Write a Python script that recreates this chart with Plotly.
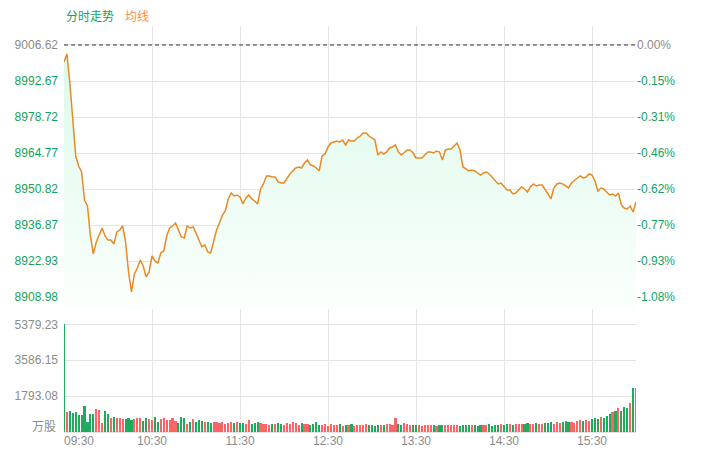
import pandas as pd
import plotly.graph_objects as go

# ---------------- data ----------------
PREV_CLOSE = 9006.62
PRICE_TICKS = [9006.62, 8992.67, 8978.72, 8964.77, 8950.82, 8936.87, 8922.93, 8908.98]
VOL_TICKS = [0, 1793.08, 3586.15, 5379.23]
VOL_TICK_TEXT = ["万股", "1793.08", "3586.15", "5379.23"]
TIME_TICKS = ["09:30", "10:30", "11:30", "12:30", "13:30", "14:30", "15:30", "16:00"]

# price every 2 minutes, 09:30 .. 16:00
PRICE = [
    9000.04, 9003.14, 8991.91, 8976.43, 8963.66, 8959.79, 8957.47, 8946.63, 8944.31, 8932.70,
    8925.74, 8930.38, 8933.48, 8935.80, 8932.70, 8931.15, 8931.15, 8929.61, 8934.25, 8935.02,
    8936.57, 8930.38, 8918.77, 8911.03, 8918.00, 8920.32, 8923.41, 8921.09, 8916.84, 8918.77,
    8924.96, 8923.03, 8922.25, 8926.12, 8926.90, 8932.70, 8935.80, 8936.57, 8937.73, 8935.02,
    8932.32, 8931.93, 8936.57, 8935.80, 8936.19, 8933.86, 8931.15, 8928.45, 8929.22, 8926.51,
    8926.12, 8930.38, 8935.02, 8937.73, 8940.83, 8942.38, 8947.02, 8949.34, 8948.18, 8948.57,
    8947.80, 8945.09, 8947.41, 8948.57, 8947.02, 8946.25, 8945.09, 8950.89, 8952.83, 8955.92,
    8955.92, 8955.54, 8955.54, 8953.60, 8953.21, 8953.21, 8955.15, 8956.70, 8957.86, 8959.02,
    8959.41, 8959.02, 8960.95, 8962.11, 8960.18, 8959.79, 8959.02, 8957.86, 8963.66, 8964.44,
    8967.15, 8968.69, 8969.08, 8969.47, 8969.08, 8969.85, 8967.92, 8969.85, 8969.47, 8969.47,
    8970.63, 8971.40, 8972.56, 8972.56, 8971.40, 8970.63, 8969.85, 8964.05, 8965.21, 8964.44,
    8965.21, 8966.76, 8967.15, 8967.92, 8965.21, 8964.05, 8965.21, 8965.98, 8965.98, 8964.82,
    8962.89, 8962.89, 8962.89, 8964.05, 8965.21, 8965.21, 8964.82, 8965.60, 8965.21, 8962.11,
    8965.98, 8966.37, 8966.37, 8967.53, 8968.69, 8965.98, 8959.41, 8958.63, 8957.86, 8958.24,
    8957.86, 8957.08, 8956.31, 8957.08, 8957.47, 8956.70, 8955.54, 8953.99, 8952.83, 8953.21,
    8952.05, 8950.50, 8950.50, 8948.96, 8949.34, 8950.50, 8951.67, 8950.89, 8949.73, 8951.67,
    8952.83, 8952.05, 8952.44, 8952.44, 8950.89, 8948.96, 8947.02, 8951.28, 8952.83, 8953.21,
    8952.83, 8952.05, 8951.28, 8953.21, 8954.37, 8955.15, 8955.92, 8955.15, 8955.54, 8956.70,
    8956.31, 8953.99, 8950.12, 8951.28, 8950.89, 8949.73, 8948.57, 8948.96, 8948.18, 8949.34,
    8944.70, 8943.54, 8943.15, 8944.31, 8941.99, 8945.86,
]

# volume (万股) per bar
VOLUME = [
    5379.23,
    980, 1050, 960, 1010, 870, 860, 1310, 520, 890, 900,
    1160, 1120, 470, 1040, 880, 720, 760, 680, 700, 640,
    660, 700, 620, 640, 690, 720, 560, 700, 640, 600,
    760, 520, 640, 700, 580, 620, 710, 540, 460, 740,
    700, 380, 520, 650, 480, 600, 560, 500, 520, 470,
    500, 480, 430, 520, 420, 460, 480, 430, 500, 430,
    460, 380, 600, 400, 470, 500, 430, 380, 420, 360,
    400, 380, 440, 420, 360, 470, 380, 520, 430, 360,
    440, 380, 400, 360, 420, 480, 340, 360, 380, 320,
    380, 360, 340, 380, 320, 360, 340, 380, 320, 350,
    360, 330, 380, 340, 350, 320, 360, 330, 340, 380,
    420, 360, 710, 400, 340, 450, 380, 330, 360, 340,
    350, 320, 360, 330, 340, 350, 320, 360, 350, 330,
    340, 360, 330, 350, 320, 340, 360, 330, 340, 330,
    320, 360, 330, 340, 380, 320, 350, 330, 400, 360,
    380, 400, 360, 410, 390, 420, 380, 440, 400, 380,
    470, 420, 380, 430, 450, 520, 420, 480, 460, 500,
    540, 480, 520, 460, 560, 600, 540, 620, 560, 640,
    700, 660, 760, 720, 820, 900, 980, 1060, 1220, 1040,
    1260, 1180, 1460, 2180, 2180,
]

DAY = "2024-01-02"
TIMES = pd.date_range(f"{DAY} 09:30", f"{DAY} 16:00", freq="2min")

# ---------------- styles ----------------
GREEN_TXT = "#12a35e"
GRAY_TXT = "#8c8c8c"
ORANGE = "#ea8a22"
GRID = "#e4e4e4"
BAR_UP = "#fb6565"
BAR_DN = "#1faa5c"
FONT = "Liberation Sans, Arial, Noto Sans CJK SC, sans-serif"

PRICE_TOP = 9013.97
PRICE_BOT = 8904.06
VOL_TOP = 6094
SPLIT = 0.3005

prev = [PREV_CLOSE] + PRICE[:-1]
bar_colors = [BAR_UP if p >= q else BAR_DN for p, q in zip(PRICE, prev)]


def span(txt, col):
    return f'<span style="color:{col}">{txt}</span>'


left_text = [span(f"{v:.2f}", GRAY_TXT if i == 0 else GREEN_TXT) for i, v in enumerate(PRICE_TICKS)]
right_text = [
    span(f"{(v - PREV_CLOSE) / PREV_CLOSE * 100:.2f}%", GRAY_TXT if i == 0 else GREEN_TXT)
    for i, v in enumerate(PRICE_TICKS)
]

tick_times = [pd.Timestamp(f"{DAY} {t}") for t in TIME_TICKS]
tick_text = ["\u00a0" * 9 + TIME_TICKS[0]] + TIME_TICKS[1:-1] + [""]

fig = go.Figure()

fig.add_trace(go.Scatter(
    x=TIMES, y=PRICE, mode="lines",
    line=dict(color=ORANGE, width=1.5),
    fill="tozeroy",
    fillgradient=dict(
        type="vertical",
        colorscale=[[0, "rgba(250,255,252,1)"], [1, "rgba(220,249,234,1)"]],
        start=PRICE_BOT + 5, stop=PRICE[1],
    ),
    xaxis="x", yaxis="y", hoverinfo="skip", showlegend=False,
))
fig.add_trace(go.Scatter(
    x=TIMES, y=PRICE, mode="lines", line=dict(width=0, color="rgba(0,0,0,0)"),
    xaxis="x", yaxis="y2", hoverinfo="skip", showlegend=False,
))
fig.add_trace(go.Bar(
    x=TIMES, y=VOLUME, marker=dict(color=bar_colors, line=dict(width=0)),
    width=85000, xaxis="x2", yaxis="y3", hoverinfo="skip", showlegend=False,
))

xcommon = dict(
    type="date",
    range=[TIMES[0], TIMES[-1]],
    tickvals=tick_times,
    showgrid=True, gridcolor=GRID, gridwidth=1,
    zeroline=False, showline=False, ticks="",
)

fig.update_layout(
    width=701, height=474,
    margin=dict(l=64, r=65, t=26, b=42),
    paper_bgcolor="white", plot_bgcolor="white",
    font=dict(family=FONT, size=12, color=GRAY_TXT),
    bargap=0,
    xaxis=dict(**xcommon, domain=[0, 1], anchor="y", showticklabels=False),
    xaxis2=dict(**xcommon, domain=[0, 1], anchor="y3", ticktext=tick_text,
                tickfont=dict(color=GRAY_TXT, size=12)),
    yaxis=dict(domain=[SPLIT, 1], range=[PRICE_BOT, PRICE_TOP],
               tickvals=PRICE_TICKS, ticktext=left_text, ticklabelstandoff=5,
               showgrid=True, gridcolor=GRID, zeroline=False, ticks="",
               tickfont=dict(size=12, color=GREEN_TXT)),
    yaxis2=dict(domain=[SPLIT, 1], range=[PRICE_BOT, PRICE_TOP], overlaying="y",
                side="right", anchor="x",
                tickvals=PRICE_TICKS, ticktext=right_text,
                showgrid=False, zeroline=False, ticks="",
                tickfont=dict(size=12, color=GREEN_TXT)),
    yaxis3=dict(domain=[0, SPLIT], range=[0, VOL_TOP],
                tickvals=VOL_TICKS[1:], ticktext=VOL_TICK_TEXT[1:], ticklabelstandoff=5,
                showgrid=True, gridcolor=GRID, zeroline=True, zerolinecolor=GRID,
                ticks="", tickfont=dict(size=12, color=GRAY_TXT)),
    shapes=[dict(type="line", xref="paper", x0=0, x1=1, yref="y",
                 y0=PREV_CLOSE, y1=PREV_CLOSE,
                 line=dict(color="#333333", width=1, dash="4px,3px"))],
    annotations=[
        dict(text="分时走势", x=0, xref="paper", xanchor="left", y=1 + 10 / 406, yref="paper",
             yanchor="middle", yshift=-1, showarrow=False, font=dict(color=GREEN_TXT, size=12)),
        dict(text="均线", x=59 / 572, xref="paper", xanchor="left", y=1 + 10 / 406, yref="paper",
             yanchor="middle", yshift=-1, showarrow=False, font=dict(color="#f7913d", size=12)),
        dict(text=VOL_TICK_TEXT[0], x=0, xref="paper", xanchor="right", xshift=-6,
             y=VOL_TICKS[0], yref="y3", yanchor="middle", yshift=5, showarrow=False,
             font=dict(color=GRAY_TXT, size=12)),
    ],
)

fig.write_html("out.html", config={"displayModeBar": False},
               post_script="document.body.style.margin='0px';")
